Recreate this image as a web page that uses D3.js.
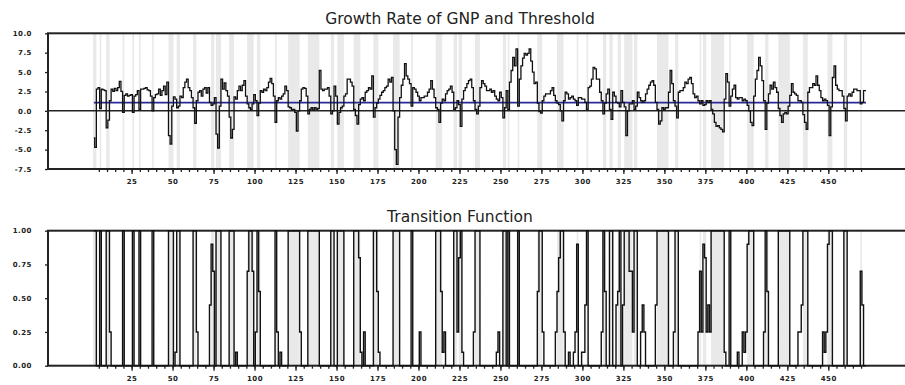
<!DOCTYPE html>
<html>
<head>
<meta charset="utf-8">
<script src="https://cdn.jsdelivr.net/npm/d3@7/dist/d3.min.js"></script>
<style>
  body { margin: 0; background: #fff; }
  text { fill: #222; }
</style>
</head>
<body>
<svg id="chart" width="905" height="385"></svg>
<script>
// * data
const firstPeriod = 2;
const growth = [
  -3.5,-4.7,2.8,3.0,0.3,2.8,2.7,2.6,-2.2,-1.2,
  1.3,2.8,2.5,2.9,2.6,3.0,3.8,2.5,-0.2,2.0,
  2.2,1.9,2.0,2.1,-0.2,1.9,2.1,2.6,0.2,2.8,
  2.8,2.9,3.0,2.7,2.6,1.9,0.0,1.7,2.1,2.2,
  2.8,2.0,2.6,3.2,2.1,3.7,-3.2,-4.3,0.6,1.8,
  1.5,0.4,0.6,1.9,1.7,3.0,3.7,4.1,3.0,2.6,
  1.7,0.4,-1.6,1.3,2.4,2.6,1.9,2.8,3.0,2.3,
  3.0,1.1,0.7,0.9,1.7,-3.0,-4.8,0.6,4.1,2.8,
  3.6,2.6,1.9,-0.8,-3.5,-2.4,1.8,1.5,2.6,3.2,
  2.6,3.3,3.9,1.9,0.9,0.4,0.2,0.9,2.1,1.3,
  -0.6,1.0,2.6,2.4,2.8,2.6,3.0,3.7,4.2,3.5,
  1.9,-1.5,1.3,1.7,1.5,1.9,2.2,3.2,2.6,0.5,
  0.4,0.2,0.2,-0.2,-2.6,0.0,1.3,2.8,3.0,2.9,
  1.9,-0.4,0.2,0.4,0.1,0.4,0.2,0.3,5.2,2.8,
  2.6,2.8,2.8,3.0,1.9,-0.4,0.0,3.2,1.9,-1.7,
  -0.2,0.4,0.6,1.9,2.2,4.1,4.1,3.7,3.2,0.2,
  -0.6,-1.7,0.8,1.5,1.7,1.3,2.4,2.6,3.0,2.8,
  4.5,-0.8,0.4,1.0,1.5,2.0,2.4,2.6,3.0,3.2,
  4.1,3.7,4.3,0.0,-5.0,-6.9,-0.8,1.7,3.3,4.1,
  6.1,4.5,4.1,3.5,0.6,3.0,2.8,2.4,1.9,1.3,
  1.7,1.7,1.9,1.9,2.4,2.8,3.9,2.8,1.7,0.4,
  0.2,-1.5,1.0,1.5,1.3,2.2,2.6,2.8,3.2,2.4,
  0.2,0.4,1.3,0.8,-2.0,1.5,2.6,3.0,3.5,3.9,
  4.1,3.0,1.3,0.2,-0.4,0.6,3.0,3.9,3.5,3.2,
  2.6,2.6,2.8,2.4,2.6,1.9,1.5,1.3,2.4,1.7,
  -0.9,0.4,2.6,0.2,3.7,5.2,6.9,5.8,8.0,0.6,
  4.1,5.8,6.8,7.4,7.2,7.4,8.0,6.4,5.0,3.5,
  3.7,1.0,-0.1,-0.3,1.3,1.9,2.2,2.2,2.2,2.6,
  3.0,2.0,1.3,1.0,0.8,0.0,-1.3,1.3,2.4,2.2,
  1.5,1.7,1.9,1.5,1.3,0.7,1.7,1.7,1.5,1.5,
  1.1,0.2,3.0,3.2,4.1,5.6,5.4,4.1,4.1,2.4,
  1.3,-0.4,1.0,2.2,2.8,0.2,-1.1,2.4,1.9,1.1,
  1.0,0.5,2.6,1.1,0.5,-3.2,0.0,0.9,0.9,1.3,
  0.2,0.6,2.4,1.7,1.3,1.1,1.3,2.2,2.8,3.3,
  3.7,3.9,3.3,1.1,0.2,-1.7,-1.3,0.4,0.2,0.4,
  0.4,2.4,5.2,3.5,1.3,0.6,-0.9,2.4,2.6,2.6,
  3.0,3.7,3.5,4.1,4.3,3.5,2.2,1.7,1.9,1.3,
  0.9,1.3,0.7,0.8,1.3,1.1,1.3,0.2,-0.4,-1.5,
  -2.0,-1.9,-2.2,-2.4,-2.7,1.5,4.8,3.7,0.6,1.9,
  2.8,3.3,1.7,1.5,1.7,1.7,1.3,1.5,1.3,0.7,
  0.0,-1.5,-1.9,1.9,4.1,5.2,6.9,5.8,3.9,1.3,
  -2.4,1.0,2.2,3.3,2.8,3.7,3.0,2.4,0.3,-0.6,
  -1.5,-0.4,-0.2,-0.4,0.6,2.0,3.5,2.4,2.2,2.0,
  1.3,1.3,1.1,-0.5,-1.5,-2.4,2.4,3.0,3.0,3.5,
  3.3,4.5,3.3,2.6,1.7,1.3,1.5,1.3,0.7,-3.2,
  0.5,4.3,5.8,3.3,2.8,2.6,2.6,1.9,0.3,-1.3,
  1.9,2.2,1.9,2.4,2.8,2.8,2.6,2.6,0.9,1.1,
  2.6,2.6
];
const threshold = 1.07;

// periods where the transition function sits at 1
const regimeOne = [2,3,6,10,11,20,26,30,38,48,49,50,53,54,63,64,77,78,79,85,86,87,97,98,102,113,
  121,122,123,124,125,126,127,133,134,135,136,137,138,139,147,148,151,152,153,154,161,162,163,
  173,174,185,186,187,188,196,211,212,213,222,223,226,235,236,237,252,253,255,261,274,275,287,288,
  303,313,317,318,323,326,327,328,332,333,346,347,348,349,350,351,352,357,358,379,380,381,382,383,
  384,385,386,390,402,403,404,412,420,421,422,423,424,425,426,435,436,437,451,452,460,461];
// periods where it takes an in-between value  [period, value]
const transitionPartial = [[12,.25],[52,.1],[65,.25],[73,.45],[74,.9],[75,.7],[89,.1],[96,.7],[99,.7],
  [101,.25],[103,.55],[114,.25],[116,.1],[128,.25],[164,.8],[165,.1],[167,.25],[175,.55],[176,.1],
  [201,.25],[214,.55],[215,.1],[216,.25],[224,.25],[225,.8],[227,.1],[234,.25],[248,.1],[249,.25],
  [273,.55],[276,.25],[284,.25],[285,.55],[286,.8],[289,.25],[292,.1],[295,.1],[296,.25],[297,.9],
  [300,.1],[301,.1],[302,.45],[312,.25],[314,.55],[321,.45],[322,.55],[325,.45],[329,.7],[330,.7],
  [331,.25],[336,.25],[337,.45],[338,.25],[345,.45],[356,.25],[371,.25],[372,.7],[373,.25],[374,.9],
  [375,.8],[376,.25],[377,.45],[378,.25],[387,.1],[395,.1],[398,.25],[399,.1],[400,.25],[401,.9],
  [411,.25],[413,.55],[432,.25],[433,.25],[434,.45],[447,.25],[448,.1],[449,.25],[450,.9],[470,.7],[471,.45]];

// * tick labels
const periodLabels = [25,50,75,100,125,150,175,200,225,250,275,300,325,350,375,400,425,450];
const growthTicks = [-7.5,-5.0,-2.5,0.0,2.5,5.0,7.5,10.0];
const transitionTicks = [0,0.25,0.5,0.75,1];

// * build series
const periods = growth.map((d, i) => firstPeriod + i);
const growthSeries = periods.map((t, i) => ({ t, v: growth[i] }));
const partialMap = new Map(transitionPartial);
const oneSet = new Set(regimeOne);
const transitionSeries = periods.map((t) => ({ t, v: oneSet.has(t) ? 1 : (partialMap.get(t) || 0) }));

// shaded runs where the transition is above one half
const runs = [];
transitionSeries.forEach((d) => {
  if (d.v < 0.5) return;
  const last = runs[runs.length - 1];
  if (last && last[1] === d.t - 1) last[1] = d.t; else runs.push([d.t, d.t]);
});

// * layout
const svg = d3.select('#chart');
const frameLeft = 48, frameRight = 908;
const x = d3.scaleLinear().domain([-26, 497.4]).range([frameLeft, 906]);
const yGrowth = d3.scaleLinear().domain([-7.5, 10]).range([169, 33.3]);
const yTrans = d3.scaleLinear().domain([0, 1]).range([365.7, 230.7]);
const minorTicks = d3.range(5, 471, 5);

function drawPanel(y, title, titleY, yTicks, fmt) {
  const g = svg.append('g');
  const [bottom, top] = y.range();

  g.selectAll('.shade')
    .data(runs)
    .enter()
    .append('rect')
    .attr('x', (d) => x(d[0] - 0.5))
    .attr('width', (d) => x(d[1] + 0.5) - x(d[0] - 0.5))
    .attr('y', top)
    .attr('height', bottom - top)
    .style('fill', '#e9e9e9');

  // frame, right side runs off the picture
  g.append('rect')
    .attr('x', frameLeft).attr('y', top)
    .attr('width', frameRight - frameLeft).attr('height', bottom - top)
    .style('fill', 'none').style('stroke', '#222').style('stroke-width', 2);

  g.append('text')
    .text(title)
    .attr('x', 460).attr('y', titleY)
    .attr('text-anchor', 'middle')
    .style('font-family', 'DejaVu Sans')
    .style('font-size', '15.5px');

  const yAxis = d3.axisLeft(y).tickValues(yTicks).tickFormat(fmt).tickSize(3).tickPadding(13);
  const yAx = g.append('g').attr('transform', `translate(${frameLeft},0)`).call(yAxis);

  const minorAxis = d3.axisBottom(x).tickValues(minorTicks).tickFormat('').tickSize(3);
  const minAx = g.append('g').attr('transform', `translate(0,${bottom})`).call(minorAxis);

  const xAxis = d3.axisBottom(x).tickValues(periodLabels).tickSize(5).tickPadding(5);
  const xAx = g.append('g').attr('transform', `translate(0,${bottom})`).call(xAxis);

  [yAx, minAx, xAx].forEach((a) => {
    a.select('.domain').remove();
    a.selectAll('line').style('stroke', '#222').style('stroke-width', 1.3);
    a.selectAll('text')
      .style('font-family', 'DejaVu Sans')
      .style('font-weight', 'bold')
      .style('font-size', '7px')
      .style('letter-spacing', '0.5px');
  });
  return g;
}

// top panel
const topG = drawPanel(yGrowth, 'Growth Rate of GNP and Threshold', 24, growthTicks, (d) => d.toFixed(1));

topG.append('line')
  .attr('x1', frameLeft).attr('x2', frameRight)
  .attr('y1', yGrowth(0)).attr('y2', yGrowth(0))
  .style('stroke', '#222').style('stroke-width', 1.5);

topG.append('line')
  .attr('x1', x(periods[0])).attr('x2', x(periods[periods.length - 1]))
  .attr('y1', yGrowth(threshold)).attr('y2', yGrowth(threshold))
  .style('stroke', '#2a2a96').style('stroke-width', 1.8);

topG.append('path')
  .datum(growthSeries)
  .attr('d', d3.line().x((d) => x(d.t)).y((d) => yGrowth(d.v)).curve(d3.curveStep))
  .style('fill', 'none').style('stroke', '#111').style('stroke-width', 1.3);

// bottom panel
const botG = drawPanel(yTrans, 'Transition Function', 222, transitionTicks, (d) => d.toFixed(2));

botG.append('path')
  .datum(transitionSeries)
  .attr('d', d3.line().x((d) => x(d.t)).y((d) => yTrans(d.v)).curve(d3.curveStep))
  .style('fill', 'none').style('stroke', '#111').style('stroke-width', 1.4);
</script>
</body>
</html>
